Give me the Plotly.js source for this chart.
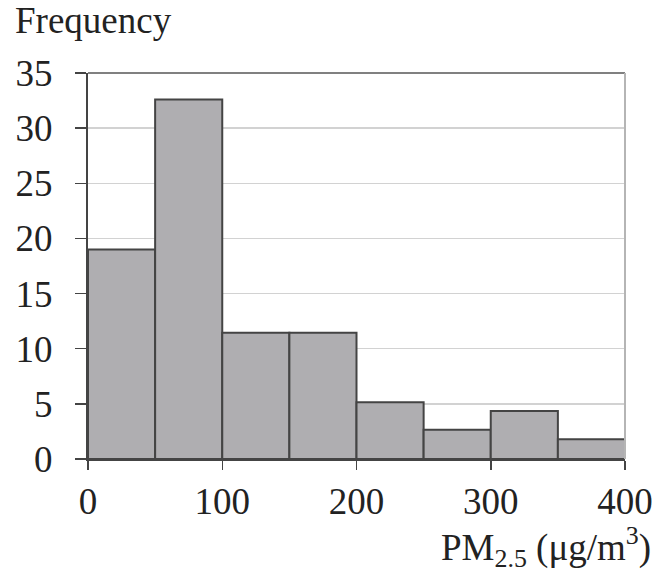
<!DOCTYPE html>
<html>
<head>
<meta charset="utf-8">
<script src="https://cdn.plot.ly/plotly-3.0.1.min.js"></script>
<style>html,body{margin:0;padding:0;background:#fff;}</style>
</head>
<body>
<div id="chart" style="width:662px;height:570px;"></div>
<script>
// Histogram bins (PM2.5, µg/m3) and their frequencies
var binLower = [0, 50, 100, 150, 200, 250, 300, 350];
var binUpper = [50, 100, 150, 200, 250, 300, 350, 400];
var frequency = [19.0, 32.6, 11.45, 11.45, 5.15, 2.65, 4.35, 1.8];
var xTickValues = [0, 100, 200, 300, 400];
var yTickValues = [0, 5, 10, 15, 20, 25, 30, 35];

var centers = binLower.map(function (lo, i) { return (lo + binUpper[i]) / 2; });
var widths = binLower.map(function (lo, i) { return binUpper[i] - lo; });

var fontFam = 'Liberation Serif, DejaVu Serif, serif';
var txtColor = '#222222';
var fs = 37;

var trace = {
  type: 'bar',
  x: centers,
  y: frequency,
  width: widths,
  marker: { color: '#afaeb1', line: { color: '#444444', width: 2 } },
  hoverinfo: 'skip'
};

var layout = {
  width: 662,
  height: 570,
  margin: { l: 88, r: 37, t: 73, b: 111 },
  paper_bgcolor: '#ffffff',
  plot_bgcolor: '#ffffff',
  showlegend: false,
  font: { family: fontFam, color: txtColor, size: fs },
  xaxis: {
    range: [0, 400],
    tickvals: xTickValues,
    ticktext: xTickValues.map(String),
    ticks: 'outside',
    ticklen: 9,
    tickwidth: 1.5,
    tickcolor: '#444444',
    showline: true,
    linecolor: '#444444',
    linewidth: 2,
    showgrid: false,
    zeroline: false,
    tickfont: { family: fontFam, size: fs, color: txtColor },
    fixedrange: true
  },
  yaxis: {
    range: [0, 35],
    tickvals: yTickValues,
    ticktext: yTickValues.map(String),
    ticks: 'outside',
    ticklen: 11,
    tickwidth: 1.5,
    tickcolor: '#444444',
    showline: true,
    linecolor: '#444444',
    linewidth: 2,
    showgrid: true,
    gridcolor: '#d2d2d2',
    gridwidth: 1.5,
    zeroline: false,
    ticklabelstandoff: 15,
    tickfont: { family: fontFam, size: fs, color: txtColor },
    fixedrange: true
  },
  shapes: [
    { type: 'line', xref: 'paper', yref: 'paper', x0: 0, x1: 1, y0: 1, y1: 1,
      line: { color: '#808080', width: 2 }, layer: 'above' },
    { type: 'line', xref: 'paper', yref: 'paper', x0: 1, x1: 1, y0: 0, y1: 1,
      line: { color: '#b5b5b5', width: 2 }, layer: 'above' }
  ],
  annotations: [
    { text: 'Frequency', xref: 'paper', yref: 'paper', x: -0.14, y: 1.0,
      xanchor: 'left', yanchor: 'bottom', yshift: 30, showarrow: false,
      font: { family: fontFam, size: fs, color: txtColor } },
    { text: 'PM<sub>2.5</sub> (μg/m<sup>3</sup>)', xref: 'paper', yref: 'paper',
      x: 1.053, y: 0, xanchor: 'right', yanchor: 'top', yshift: -60,
      showarrow: false, font: { family: fontFam, size: fs, color: txtColor } }
  ]
};

Plotly.newPlot('chart', [trace], layout, { staticPlot: true, displayModeBar: false });
</script>
</body>
</html>
